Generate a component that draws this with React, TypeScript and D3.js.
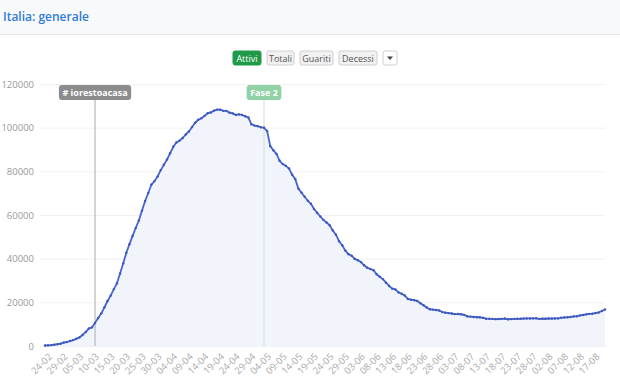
import React, { useRef, useEffect } from 'react';
import * as d3 from 'd3';

// active cases, one per day from 24-02 to 21-08
const startDay = new Date(2020, 1, 24);
const activeCases = [
  221, 311, 385, 588, 821, 1049, 1577, 1835, 2263, 2706, 3296, 3916, 5061, 6387, 7985, 8514,
  10590, 12839, 14955, 17750, 20603, 23073, 26062, 28710, 33190, 37860, 42681, 46638, 50418,
  54030, 57521, 62013, 66414, 70065, 73880, 75528, 77635, 80572, 83049, 85388, 88274, 91246,
  93187, 94067, 95262, 96877, 98273, 100269, 102253, 103616, 104291, 105418, 106607, 106962,
  107771, 108257, 108237, 107709, 107699, 106848, 106527, 105847, 106103, 105813, 105205,
  104657, 101551, 100943, 100704, 100179, 99980, 98467, 91528, 89624, 87961, 84842, 83324,
  82488, 81266, 78457, 76440, 72070, 70187, 68351, 66553, 65129, 62752, 60960, 59322, 57752,
  56594, 55300, 52942, 50966, 47986, 46175, 43691, 42075, 41367, 39893, 39297, 38429, 36976,
  35877, 35262, 34730, 32872, 31710, 30637, 28997, 27485, 26274, 25909, 24569, 23925, 23101,
  21543, 21212, 20972, 20637, 19573, 18655, 17638, 16836, 16681, 16496, 16248, 15563, 15255,
  15060, 14884, 14621, 14642, 14541, 14242, 13595, 13459, 13303, 13179, 13157, 12919, 12493,
  12456, 12404, 12301, 12368, 12440, 12581, 12248, 12322, 12404, 12456, 12482, 12565, 12616,
  12609, 12646, 12693, 12442, 12474, 12482, 12593, 12581, 12616, 12636, 12924, 13069, 13167,
  13303, 13526, 13615, 14007, 14201, 14495, 14734, 14781, 15089, 15360, 16014, 16723,
];
const yTicks = [0, 20000, 40000, 60000, 80000, 100000, 120000];
const xTickLabels = [
  '24-02', '29-02', '05-03', '10-03', '15-03', '20-03', '25-03', '30-03', '04-04', '09-04',
  '14-04', '19-04', '24-04', '29-04', '04-05', '09-05', '14-05', '19-05', '24-05', '29-05',
  '03-06', '08-06', '13-06', '18-06', '23-06', '28-06', '03-07', '08-07', '13-07', '18-07',
  '23-07', '28-07', '02-08', '07-08', '12-08', '17-08',
];
const buttons = ['Attivi', 'Totali', 'Guariti', 'Decessi'];
const events = [
  { day: '11-03', label: '# iorestoacasa', color: '#8c8c8c', line: '#b8b8b8' },
  { day: '04-05', label: 'Fase 2', color: '#90d2a6', line: '#d3e3dc' },
];

const dims = { width: 620, height: 385, left: 45, right: 605, top: 84, bottom: 346 };
const font = '"Open Sans", "Noto Sans", sans-serif';

const App = () => {
  const svgRef = useRef(null);

  useEffect(() => {
    const svg = d3.select(svgRef.current);
    svg.selectAll('*').remove();

    const fmt = d3.timeFormat('%d-%m');
    const days = activeCases.map((_, i) => fmt(d3.timeDay.offset(startDay, i)));
    const data = activeCases.map((v, i) => ({ day: days[i], v }));

    const x = d3.scalePoint<string>().domain(days).range([dims.left, dims.right]);
    const y = d3.scaleLinear().domain([0, 120000]).range([dims.bottom, dims.top]);

    // header
    svg.append('rect').attr('width', dims.width).attr('height', 34).attr('fill', '#f8f9fb');
    svg.append('line').attr('x1', 0).attr('x2', dims.width).attr('y1', 34.5).attr('y2', 34.5)
      .attr('stroke', '#e4e6ea');
    svg.append('text').attr('x', 3).attr('y', 21).text('Italia: generale')
      .attr('font-size', 12).attr('font-weight', 600).attr('fill', '#2f7bd6')
      .attr('font-family', font);

    // buttons
    const btnWidths = [28, 27, 33, 38];
    let bx = 233;
    buttons.forEach((b, i) => {
      const g = svg.append('g').attr('transform', `translate(${bx},51)`);
      g.append('rect').attr('width', btnWidths[i]).attr('height', 14).attr('rx', 2)
        .attr('fill', i === 0 ? '#1f9a48' : '#f1f1f1')
        .attr('stroke', i === 0 ? '#1f9a48' : '#d0d0d0');
      g.append('text').attr('x', btnWidths[i] / 2).attr('y', 10.5).text(b)
        .attr('text-anchor', 'middle').attr('font-size', 9).attr('font-family', font)
        .attr('fill', i === 0 ? '#fff' : '#555');
      bx += btnWidths[i] + 6;
    });
    const dd = svg.append('g').attr('transform', `translate(${bx},51)`);
    dd.append('rect').attr('width', 14).attr('height', 14).attr('rx', 2)
      .attr('fill', '#fff').attr('stroke', '#cfcfcf');
    dd.append('path').attr('d', 'M4,5.5 L10,5.5 L7,9 Z').attr('fill', '#444');

    // grid + y axis
    const yAxis = svg.append('g').attr('transform', `translate(${dims.left - 5},0)`)
      .call(d3.axisLeft(y).tickValues(yTicks).tickSize(-(dims.right - dims.left + 5)).tickPadding(6)
        .tickFormat(d3.format('d')));
    yAxis.select('.domain').remove();
    yAxis.selectAll('line').attr('stroke', '#f0f1f3');
    yAxis.selectAll('text').attr('fill', '#999').attr('font-size', 9.5).attr('font-family', font);

    // area + line
    const area = d3.area<{ day: string; v: number }>()
      .x(d => x(d.day)!).y0(y(0)).y1(d => y(d.v));
    svg.append('path').datum(data).attr('d', area).attr('fill', '#f2f4fc');

    // event markers
    events.forEach(e => {
      const ex = x(e.day)!;
      svg.append('line').attr('x1', ex).attr('x2', ex).attr('y1', 100).attr('y2', dims.bottom)
        .attr('stroke', e.line).attr('stroke-width', 1.2);
    });

    const lineGen = d3.line<{ day: string; v: number }>().x(d => x(d.day)!).y(d => y(d.v));
    svg.append('path').datum(data).attr('d', lineGen).attr('fill', 'none')
      .attr('stroke', '#4a66cc').attr('stroke-width', 1.8).attr('stroke-linejoin', 'round');
    svg.append('g').selectAll('circle').data(data).join('circle')
      .attr('cx', d => x(d.day)!).attr('cy', d => y(d.v)).attr('r', 1.2).attr('fill', '#3c58bf');

    events.forEach(e => {
      const ex = x(e.day)!;
      const g = svg.append('g');
      const t = g.append('text').attr('x', ex).attr('y', 95.5).text(e.label)
        .attr('text-anchor', 'middle').attr('font-size', 9).attr('font-weight', 700)
        .attr('fill', '#fff').attr('font-family', font);
      const w = (t.node() as SVGTextElement).getComputedTextLength() + 7;
      g.insert('rect', 'text').attr('x', ex - w / 2).attr('y', 85).attr('width', w)
        .attr('height', 15).attr('rx', 3).attr('fill', e.color);
    });

    // x axis
    const xAxis = svg.append('g').attr('transform', `translate(0,${dims.bottom})`)
      .call(d3.axisBottom(x).tickValues(xTickLabels).tickSize(0).tickPadding(6));
    xAxis.select('.domain').remove();
    xAxis.selectAll('text').attr('fill', '#aaa').attr('font-size', 9.5).attr('font-family', font)
      .attr('text-anchor', 'end').attr('dy', 0)
      .attr('transform', 'translate(3,7) rotate(-45)');
  }, []);

  return (
    <div style={{ position: 'absolute', left: 0, top: 0 }}>
      <svg width={dims.width} height={dims.height} ref={svgRef}></svg>
    </div>
  );
};

export default App;
